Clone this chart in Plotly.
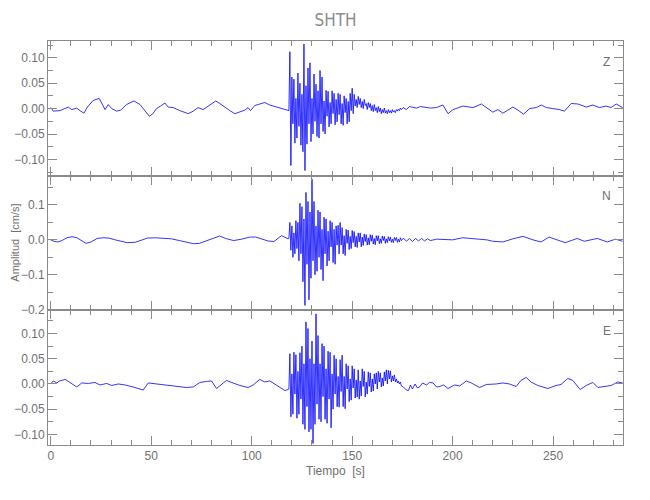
import numpy as np
import plotly.graph_objects as go

# ---------------- data ----------------
title = "SHTH"
components = ["Z", "N", "E"]

# Z component
z_pre_t = [0, 1.2, 4.6, 8.7, 10.4, 12.9, 14.5, 16.5, 18.2, 21.1, 24.1, 25.3, 27, 28.6, 30.3,
           32.8, 34.8, 37.7, 41.4, 44.4, 46.8, 49, 50.6, 52.6, 54.6, 56.8, 58.4, 60.9, 64.2, 68.4,
           70.9, 73.3, 75.8, 78.3, 82.1, 84.1, 86.1, 89.1, 91.6, 94.1, 96.6, 98.2, 99.4, 101.5, 104,
           106.5, 109, 112.3, 115.6, 118.1]
z_pre_v = [0.002, -0.005, -0.004, 0.003, -0.002, 0.001, -0.004, -0.009, 0.003, 0.016,
           0.020, 0.010, -0.002, 0.008, 0.000, -0.005, -0.003, 0.008, 0.015, 0.008,
           -0.004, -0.015, -0.011, 0.000, 0.005, 0.011, 0.003, 0.002, -0.004, -0.010,
           -0.005, 0.002, -0.002, 0.005, 0.015, 0.010, 0.004, -0.004, -0.010, -0.007,
           -0.003, 0.002, -0.004, 0.006, 0.009, 0.012, 0.007, 0.003, 0.000, -0.004]
z_act_v = [-0.004, 0.112, -0.112, 0.062, -0.030, 0.058, -0.068, 0.020, -0.058, 0.070,
           -0.035, 0.050, -0.072, 0.028, -0.085, 0.127, -0.122, 0.045, -0.070, 0.080,
           -0.030, 0.090, -0.065, 0.020, -0.050, 0.068, -0.025, 0.048, -0.055, 0.035,
           -0.058, 0.075, -0.030, 0.062, -0.045, 0.015, -0.050, 0.036, -0.015, 0.034,
           -0.036, 0.012, -0.030, 0.035, -0.010, 0.030, -0.032, 0.018, -0.026, 0.030,
           -0.012, 0.028, -0.030, 0.010, -0.033, 0.025, -0.008, 0.020, -0.030, 0.014,
           -0.026, 0.030, -0.004, 0.040, -0.010, 0.028, 0.005, 0.018, 0.002, 0.024,
           0.008, 0.020, 0.002, 0.014, 0.000, 0.018, 0.006, 0.010, -0.002, 0.012,
           0.002, 0.010, -0.004, 0.006, -0.006, 0.008, -0.004, 0.002, -0.008, 0.004,
           -0.006, 0.001, -0.010, -0.002, -0.008, 0.001, -0.009, -0.004, -0.010, -0.002,
           -0.008, -0.004, -0.009, -0.002, -0.007, -0.004, -0.008, -0.002, -0.005, -0.001,
           -0.004, 0.001, -0.002]
z_post_t = [175.4, 177, 178.5, 180.3, 182, 184, 186.9, 189, 191.9, 195.2, 197.7, 200.2, 205.1,
            210.1, 214.3, 216.8, 220, 222.5, 225, 227.5, 230, 232.5, 235.3, 238.3, 241.6, 244.1,
            246.6, 249.9, 253.2, 255.7, 259, 262.3, 266.5, 269.8, 273.1, 276.4, 278.9, 281.4, 284.6]
z_post_v = [0.002, -0.002, 0.004, 0.003, 0.001, 0.004, 0.003, 0.001, 0.002, 0.007,
            -0.010, -0.002, 0.005, 0.002, 0.009, 0.002, -0.007, -0.002, -0.009, -0.003,
            0.003, -0.003, -0.011, 0.000, 0.002, 0.007, 0.002, 0.000, -0.002, -0.005,
            0.010, 0.009, 0.003, 0.007, 0.002, 0.005, 0.002, 0.009, 0.002]

# N component
n_pre_t = [0, 1.5, 3.5, 5.5, 8, 10.5, 13, 15.5, 17.5, 20, 23, 26, 29, 32, 35, 38, 42, 45, 48, 52,
           56, 60, 64, 68, 71, 74, 77, 80, 84, 87, 91, 95, 99, 102, 105, 108, 111, 114.8, 118.1]
n_pre_v = [0.000, -0.004, -0.006, -0.002, 0.006, 0.009, 0.006, -0.004, -0.010, -0.006,
           0.004, 0.006, 0.005, 0.000, -0.004, -0.008, -0.007, 0.000, 0.005, 0.006,
           0.005, 0.003, -0.002, -0.006, -0.011, -0.010, -0.004, 0.002, 0.011, 0.004,
           -0.002, 0.002, 0.008, 0.008, 0.002, -0.003, -0.005, 0.012, 0.003]
n_act_v = [0.004, 0.050, -0.030, 0.040, -0.050, 0.020, -0.040, 0.055, -0.025, 0.050,
           -0.060, 0.105, -0.040, 0.095, -0.120, 0.060, -0.188, 0.136, -0.070, 0.110,
           -0.172, 0.080, -0.110, 0.174, -0.060, 0.110, -0.100, 0.040, -0.090, 0.085,
           -0.050, 0.080, -0.085, 0.030, -0.117, 0.065, -0.040, 0.060, -0.075, 0.025,
           -0.060, 0.055, -0.020, 0.050, -0.065, 0.030, -0.070, 0.040, -0.015, 0.042,
           -0.040, 0.050, -0.015, 0.035, -0.040, 0.012, -0.045, 0.030, -0.010, 0.028,
           -0.028, 0.010, -0.025, 0.027, -0.008, 0.024, -0.020, 0.010, -0.022, 0.020,
           -0.006, 0.020, -0.020, 0.008, -0.016, 0.017, -0.005, 0.015, -0.015, 0.006,
           -0.014, 0.015, -0.004, 0.014, -0.012, 0.004, -0.014, 0.012, -0.003, 0.012,
           -0.011, 0.003, -0.010, 0.011, -0.002, 0.010, -0.010, 0.003, -0.008, 0.009,
           -0.003, 0.008, -0.007, 0.002, -0.008, 0.007, -0.002, 0.007, -0.007, 0.002,
           -0.006, 0.006, -0.002]
n_post_t = [175.5, 177, 178.5, 180, 181.5, 183, 184.5, 186, 187.5, 189, 192, 196, 200, 205, 209,
            213, 217, 220, 225, 230, 235, 240, 244, 248, 252, 256, 259, 262, 265.5, 269, 272,
            277, 281, 284.6]
n_post_v = [0.005, -0.004, 0.004, -0.005, 0.004, -0.003, 0.004, -0.003, 0.003, -0.002,
            0.002, 0.000, 0.000, 0.006, 0.004, 0.002, 0.000, -0.004, -0.006, 0.003,
            0.010, 0.000, -0.006, 0.008, 0.000, -0.008, -0.002, 0.004, -0.004, 0.000,
            0.004, -0.006, 0.002, -0.004]

# E component
e_pre_t = [0, 1.2, 3, 4.4, 7.2, 8.9, 12.9, 15.4, 18.7, 22, 24.5, 27.8, 30.3, 33.6, 37, 41, 46,
           48.5, 52.6, 57.6, 62.6, 67.5, 70.9, 74.2, 77.5, 80, 82.5, 85, 87.4, 90.7, 94.1, 98.2,
           100.7, 104, 106.5, 109, 112.3, 116.5, 118.1]
e_pre_v = [0.000, 0.006, 0.002, 0.006, 0.009, 0.004, -0.006, 0.002, 0.001, 0.003,
           -0.002, 0.001, -0.003, 0.000, -0.002, -0.006, -0.012, 0.002, 0.000, -0.003,
           -0.006, -0.007, -0.006, 0.003, 0.005, 0.006, -0.009, -0.001, 0.007, 0.002,
           -0.003, -0.007, -0.002, 0.009, 0.004, 0.006, -0.002, -0.013, -0.011]
e_act_v = [-0.010, 0.060, -0.065, 0.020, -0.060, 0.063, -0.020, 0.058, -0.068, 0.025,
           -0.060, 0.062, -0.030, 0.075, -0.080, 0.040, -0.090, 0.123, -0.045, 0.110,
           -0.095, 0.050, -0.090, 0.085, -0.118, 0.040, -0.080, 0.139, -0.040, 0.096,
           -0.070, 0.040, -0.075, 0.080, -0.025, 0.075, -0.070, 0.030, -0.078, 0.065,
           -0.030, 0.063, -0.087, 0.020, -0.050, 0.057, -0.020, 0.050, -0.045, 0.015,
           -0.046, 0.048, -0.015, 0.057, -0.045, 0.015, -0.049, 0.040, -0.010, 0.036,
           -0.035, 0.010, -0.032, 0.036, -0.008, 0.030, -0.028, 0.008, -0.026, 0.028,
           -0.030, 0.006, -0.024, 0.030, -0.005, 0.025, -0.026, 0.004, -0.020, 0.024,
           -0.005, 0.022, -0.016, 0.010, -0.014, 0.020, 0.000, 0.022, -0.010, 0.025,
           0.004, 0.022, -0.006, 0.012, -0.004, 0.024, 0.006, 0.028, 0.000, 0.027,
           0.010, 0.026, 0.004, 0.016, 0.006, 0.018, 0.004, 0.010, 0.002, 0.006,
           0.000, 0.004, -0.004]
e_post_t = [175.5, 177, 178, 179, 180, 181.3, 182.5, 183.8, 185, 187, 188.5, 190.3, 192, 193.6,
            195.5, 197.7, 201, 203.5, 206.8, 209.3, 213.4, 216.8, 221.7, 225, 228.3, 231.6, 234,
            236.6, 239, 242.4, 247.4, 251.5, 254, 257.3, 259.8, 263.5, 266.5, 269.8, 272.3,
            275.6, 278.9, 282.2, 284.6]
e_post_v = [-0.006, -0.012, -0.013, -0.002, -0.010, 0.000, -0.008, -0.005, 0.002, -0.002,
            0.003, 0.002, -0.006, -0.005, -0.002, -0.009, -0.002, -0.004, 0.006, 0.002,
            -0.007, -0.001, 0.000, 0.002, 0.000, -0.005, 0.007, 0.013, 0.004, -0.003,
            -0.009, -0.003, -0.001, 0.011, 0.007, -0.011, -0.003, 0.003, -0.007, -0.005,
            -0.003, 0.004, 0.002]

active_start = 118.5   # s, first sample of the strong-motion section
active_step = 0.5      # s, sample spacing in that section


def build(pre_t, pre_v, act_v, post_t, post_v):
    act_t = active_start + active_step * np.arange(len(act_v))
    t = np.concatenate([pre_t, act_t, post_t])
    v = np.concatenate([pre_v, act_v, post_v])
    return t, v


series = {
    "Z": build(z_pre_t, z_pre_v, z_act_v, z_post_t, z_post_v),
    "N": build(n_pre_t, n_pre_v, n_act_v, n_post_t, n_post_v),
    "E": build(e_pre_t, e_pre_v, e_act_v, e_post_t, e_post_v),
}

# ---------------- styling ----------------
TICKFONT = "Liberation Sans, Arial, sans-serif"
TITLEFONT = "DejaVu Sans Condensed, Liberation Sans, sans-serif"
AX = "#8a8a8a"
TXT = "#707070"
LINE = "#0000ff"

# the page body keeps its default 8px margin, so the figure is 8px smaller
FIG_W, FIG_H = 642, 492

fig = go.Figure()
names = ["", "2", "3"]
for i, comp in enumerate(components):
    t, v = series[comp]
    fig.add_trace(go.Scatter(x=t, y=v, mode="lines", line=dict(color=LINE, width=0.8),
                             xaxis="x" + names[i], yaxis="y" + names[i],
                             hoverinfo="skip", showlegend=False))

xcommon = dict(range=[-1.4, 284.8], showline=True, linecolor=AX, linewidth=1, mirror="ticks",
               ticks="inside", ticklen=9, tickcolor=AX, tickwidth=1, tick0=0, dtick=50,
               minor=dict(dtick=10, ticks="inside", ticklen=5, tickcolor=AX, tickwidth=1),
               showgrid=False, zeroline=False, automargin=False,
               tickfont=dict(family=TICKFONT, size=12, color=TXT))
ycommon = dict(showline=True, linecolor=AX, linewidth=1, mirror="ticks",
               ticks="inside", ticklen=9, tickcolor=AX, tickwidth=1,
               showgrid=False, zeroline=False, automargin=False,
               tickfont=dict(family=TICKFONT, size=12, color=TXT))

doms = [[2 / 3, 1.0], [1 / 3, 2 / 3], [0.0, 1 / 3]]
yranges = [[-0.132, 0.133], [-0.202, 0.184], [-0.121, 0.146]]
ydticks = [0.05, 0.1, 0.05]
yminor = [0.025, 0.05, 0.025]
yfmt = [".2f", ".1f", ".2f"]

layout = dict(
    width=FIG_W, height=FIG_H,
    margin=dict(l=40, r=27, t=33, b=55, autoexpand=False),
    paper_bgcolor="white", plot_bgcolor="white",
    title=dict(text=title, x=0.5, xref="paper", xanchor="center", y=1 - 12 / FIG_H,
               yref="container", yanchor="middle", automargin=False,
               font=dict(family=TITLEFONT, size=17, color="#8c8c8c")),
    hovermode=False,
)
for i in range(3):
    xa = dict(xcommon, domain=[0, 1], anchor="y" + names[i], showticklabels=(i == 2))
    if i > 0:
        xa["matches"] = "x"
    ya = dict(ycommon, domain=doms[i], anchor="x" + names[i], range=yranges[i],
              tick0=0, dtick=ydticks[i], tickformat=yfmt[i],
              minor=dict(tick0=0, dtick=yminor[i], ticks="inside", ticklen=5,
                         tickcolor=AX, tickwidth=1))
    layout["xaxis" + names[i]] = xa
    layout["yaxis" + names[i]] = ya

annotations = []
for i, comp in enumerate(components):
    annotations.append(dict(text=comp, xref="x%s domain" % names[i], yref="y%s domain" % names[i],
                            x=0.972, y=0.846, xanchor="center", yanchor="middle", showarrow=False,
                            font=dict(family=TICKFONT, size=12, color=TXT)))
annotations.append(dict(text="Amplitud  [cm/s]", xref="paper", yref="paper", x=-0.058, y=0.5,
                        textangle=-90, xanchor="center", yanchor="middle", showarrow=False,
                        font=dict(family=TICKFONT, size=11, color=TXT)))
annotations.append(dict(text="Tiempo  [s]", xref="paper", yref="paper", x=0.5, y=-0.065,
                        xanchor="center", yanchor="middle", showarrow=False,
                        font=dict(family=TICKFONT, size=12, color=TXT)))
layout["annotations"] = annotations

fig.update_layout(**layout)
fig.write_html("out.html", config={"displayModeBar": False})
